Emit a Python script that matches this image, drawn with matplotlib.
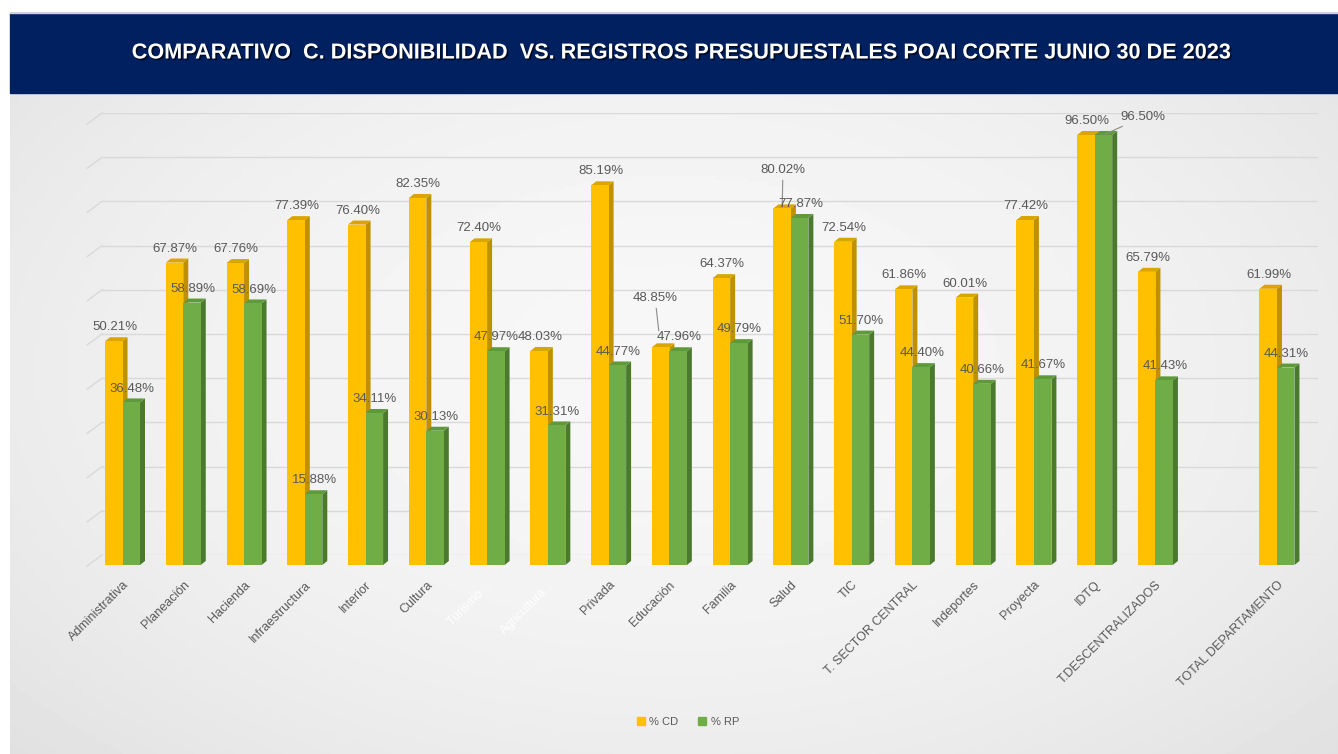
import numpy as np
import matplotlib.pyplot as plt
from matplotlib.patches import Rectangle, Polygon
import matplotlib.patheffects as pe

plt.rcParams['font.family'] = ['Liberation Sans', 'DejaVu Sans']

# datos
categorias = ['Administrativa', 'Planeación', 'Hacienda', 'Infraestructura', 'Interior', 'Cultura',
              'Turismo ...', 'Agricultura...', 'Privada', 'Educación', 'Familia', 'Salud', 'TIC',
              'T. SECTOR CENTRAL', 'Indeportes', 'Proyecta', 'IDTQ', 'T.DESCENTRALIZADOS', '',
              'TOTAL DEPARTAMENTO']
pct_cd = [50.21, 67.87, 67.76, 77.39, 76.40, 82.35, 72.40, 48.03, 85.19, 48.85, 64.37, 80.02,
          72.54, 61.86, 60.01, 77.42, 96.50, 65.79, np.nan, 61.99]
pct_rp = [36.48, 58.89, 58.69, 15.88, 34.11, 30.13, 47.97, 31.31, 44.77, 47.96, 49.79, 77.87,
          51.70, 44.40, 40.66, 41.67, 96.50, 41.43, np.nan, 44.31]
etiquetas_blancas = ['Turismo ...', 'Agricultura...']
titulo = 'COMPARATIVO  C. DISPONIBILIDAD  VS. REGISTROS PRESUPUESTALES POAI CORTE JUNIO 30 DE 2023'

W, H = 1338, 754
fig = plt.figure(figsize=(W / 100, H / 100), dpi=100)
fig.patch.set_facecolor('white')

# fondo: degradado gris + banda del titulo
bg = fig.add_axes([0, 0, 1, 1])
bg.set_xlim(0, W)
bg.set_ylim(H, 0)
bg.axis('off')
yy, xx = np.mgrid[0:1:200j, 0:1:400j]
d = np.sqrt(((xx - 0.5) / 0.62) ** 2 + ((yy - 0.42) / 0.75) ** 2)
grad = np.clip(0.968 - 0.07 * d ** 2, 0, 1)
bg.imshow(grad, cmap='gray', vmin=0, vmax=1, extent=(10, W, H, 93), aspect='auto', zorder=0)
bg.add_patch(Rectangle((10, 13), W - 10, 80, color='#002060', zorder=1))
bg.plot([10, W], [12.5, 12.5], color='#d0d0d0', lw=1, zorder=1)
bg.text(681, 53, titulo, color='white', fontsize=15.6, fontweight='bold', ha='center', va='center',
        path_effects=[pe.SimplePatchShadow(offset=(1.2, -1.2), shadow_rgbFace='black', alpha=0.6),
                      pe.Normal()], zorder=2)

# pared del fondo con lineas de cuadricula
wall = fig.add_axes([102 / W, (H - 555) / H, 1216 / W, 442 / H])
wall.set_ylim(0, 100)
wall.set_xlim(0, 1)
wall.axis('off')
for v in range(0, 101, 10):
    wall.axhline(v, color='#d9d9d9', lw=1)
    wall.plot([-0.0123, 0], [v - 2.5, v], transform=wall.get_yaxis_transform(),
              color='#d9d9d9', lw=1, clip_on=False)

# barras
ax = fig.add_axes([80 / W, 189 / H, 1239.5 / W, 467.9 / H])
ax.set_xlim(-0.7, 19.7)
ax.set_ylim(0, 105)
ax.patch.set_alpha(0)
for s in ax.spines.values():
    s.set_visible(False)
ax.set_yticks([])

x = np.arange(len(categorias))
w = 0.288
dx, dy = 0.082, 0.9

def barra3d(xc, h, lado, tapa, z):
    if np.isnan(h):
        return
    xl, xr = xc - w / 2, xc + w / 2
    ax.add_patch(Polygon([(xr, 0), (xr + dx, dy), (xr + dx, h + dy), (xr, h)], closed=True,
                         facecolor=lado, edgecolor='none', zorder=z))
    ax.add_patch(Polygon([(xl, h), (xr, h), (xr + dx, h + dy), (xl + dx, h + dy)], closed=True,
                         facecolor=tapa, edgecolor='none', zorder=z))

ax.bar(x - w / 2, pct_cd, w, color='#ffc000', zorder=2)
for xi, v in zip(x, pct_cd):
    barra3d(xi - w / 2, v, '#bf9000', '#dba500', 1)
ax.bar(x + w / 2, pct_rp, w, color='#70ad47', zorder=4)
for xi, v in zip(x, pct_rp):
    barra3d(xi + w / 2, v, '#4b7a2f', '#5f9a3a', 3)

# etiquetas de datos (algunas desplazadas con linea guia)
especiales = {('cd', 11): (0.6, 27.6, 1), ('cd', 9): (-4, 35.5, 12), ('rp', 16): (28.5, 13, 1)}
gris = '#595959'
for serie, vals, off in (('cd', pct_cd, -w / 2), ('rp', pct_rp, w / 2)):
    for i, v in enumerate(vals):
        if np.isnan(v):
            continue
        pos = (x[i] + off, v)
        if (serie, i) in especiales:
            ox, oy, sb = especiales[(serie, i)]
            ax.annotate(f'{v:.2f}%', pos, xytext=(ox, oy), textcoords='offset points',
                        ha='center', va='center', fontsize=9.5, color=gris, zorder=6,
                        arrowprops=dict(arrowstyle='-', color='#8c8c8c', lw=0.8,
                                        shrinkA=1, shrinkB=sb))
        else:
            ax.annotate(f'{v:.2f}%', pos, xytext=(0.5, 10), textcoords='offset points',
                        ha='center', va='center', fontsize=9.5, color=gris, zorder=6)

ax.set_xticks(x)
ax.set_xticklabels(categorias, rotation=45, ha='right', va='top', rotation_mode='anchor',
                   fontsize=9, color=gris)
for t in ax.get_xticklabels():
    if t.get_text() in etiquetas_blancas:
        t.set_color('white')
ax.tick_params(axis='x', length=0, pad=10)

# leyenda
handles = [Rectangle((0, 0), 1, 1, color='#ffc000'), Rectangle((0, 0), 1, 1, color='#70ad47')]
fig.legend(handles, ['% CD', '% RP'], loc='center', bbox_to_anchor=(688 / W, 1 - 722 / H),
           ncol=2, frameon=False, fontsize=8, handlelength=0.7, handleheight=0.7,
           handletextpad=0.4, columnspacing=1.8, labelcolor=gris)

fig.savefig('out.png', dpi=100)
